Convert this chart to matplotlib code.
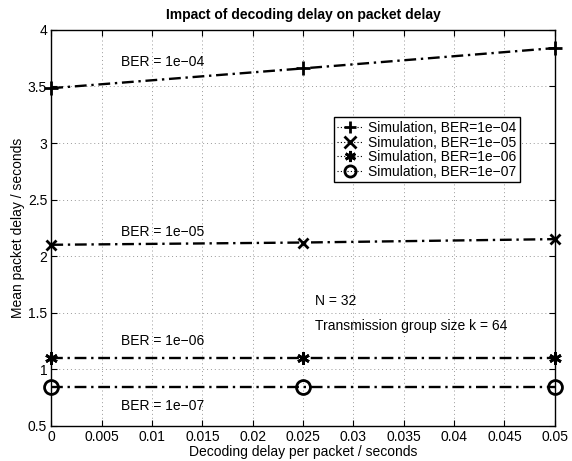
import matplotlib
matplotlib.use("Agg")
import matplotlib.pyplot as plt

plt.rcParams['font.family'] = ['Liberation Sans', 'DejaVu Sans']

delay = [0.0, 0.025, 0.05]
ber_1e4 = [3.485, 3.66, 3.84]
ber_1e5 = [2.10, 2.12, 2.15]
ber_1e6 = [1.10, 1.10, 1.10]
ber_1e7 = [0.84, 0.84, 0.84]
labels = ["Simulation, BER=1e\u221204", "Simulation, BER=1e\u221205",
          "Simulation, BER=1e\u221206", "Simulation, BER=1e\u221207"]
xticks = [0, 0.005, 0.01, 0.015, 0.02, 0.025, 0.03, 0.035, 0.04, 0.045, 0.05]
xticklabels = ['0', '0.005', '0.01', '0.015', '0.02', '0.025', '0.03',
               '0.035', '0.04', '0.045', '0.05']
yticks = [0.5, 1, 1.5, 2, 2.5, 3, 3.5, 4]
yticklabels = ['0.5', '1', '1.5', '2', '2.5', '3', '3.5', '4']
markers = ['+', 'x', (6, 2, 0), 'o']

fig = plt.figure(figsize=(5.72, 4.61), dpi=100)
ax = fig.add_axes([0.0897, 0.0766, 0.970 - 0.0897, 0.935 - 0.0766])

series = [ber_1e4, ber_1e5, ber_1e6, ber_1e7]
sizes = [10, 7.5, 9, 10]
for vals, lab, m, s in zip(series, labels, markers, sizes):
    ax.plot(delay, vals, linestyle=(0, (5, 2, 1, 2)), color='black',
            linewidth=1.7, marker=m, markersize=s, markeredgewidth=2.0,
            markerfacecolor='none', markeredgecolor='black', label=lab,
            clip_on=False, zorder=3)

ax.set_xlim(0, 0.05)
ax.set_ylim(0.5, 4)
ax.set_xticks(xticks)
ax.set_xticklabels(xticklabels)
ax.set_yticks(yticks)
ax.set_yticklabels(yticklabels)
ax.grid(True, linestyle=(0, (1, 3)), color='#999999', linewidth=0.7)
ax.tick_params(direction='in', length=4, labelsize=10, pad=3,
               top=True, right=True)
for sp in ax.spines.values():
    sp.set_linewidth(1.0)

ax.set_title("Impact of decoding delay on packet delay", fontsize=10,
             fontweight='bold', pad=8)
ax.set_xlabel("Decoding delay per packet / seconds", fontsize=10, labelpad=1)
ax.set_ylabel("Mean packet delay / seconds", fontsize=10, labelpad=2)

tk = dict(fontsize=10, ha='left', va='center')
ax.text(0.0069, 3.72, "BER = 1e\u221204", **tk)
ax.text(0.0069, 2.21, "BER = 1e\u221205", **tk)
ax.text(0.0069, 1.25, "BER = 1e\u221206", **tk)
ax.text(0.0069, 0.67, "BER = 1e\u221207", **tk)
ax.text(0.0262, 1.60, "N = 32", **tk)
ax.text(0.0262, 1.38, "Transmission group size k = 64", **tk)

leg = ax.legend(loc='upper left', bbox_to_anchor=(0.561, 0.779),
                fontsize=10, frameon=True, fancybox=False,
                edgecolor='black', framealpha=1, handlelength=1.8,
                handletextpad=0.4, borderpad=0.25, labelspacing=0.05,
                borderaxespad=0)
leg.get_frame().set_linewidth(1.0)
for h in leg.legend_handles:
    h.set_markersize(8)
    h.set_linestyle((0, (1, 2)))
    h.set_linewidth(0.8)

fig.savefig("out.png", dpi=100)
